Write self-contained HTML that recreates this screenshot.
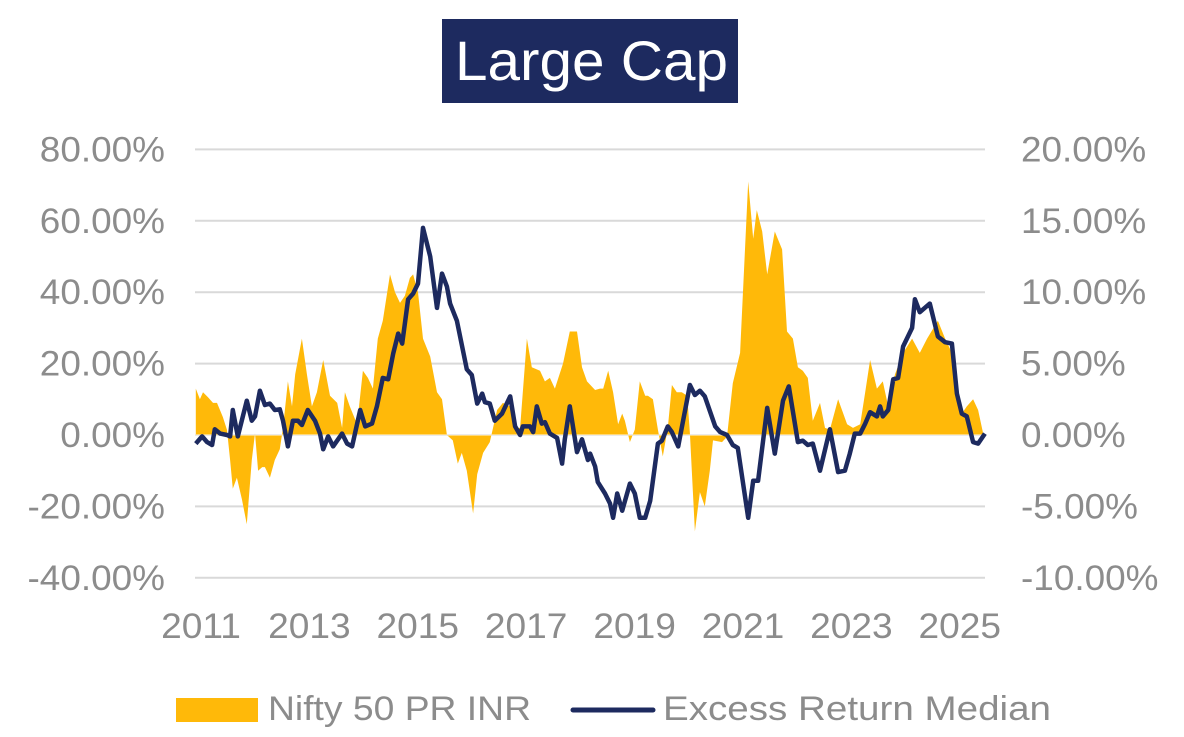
<!DOCTYPE html>
<html><head><meta charset="utf-8"><style>
html,body{margin:0;padding:0;background:#fff;}
svg{display:block;font-family:"Liberation Sans",sans-serif;}
</style></head><body>
<svg id="chart" width="1184" height="737" viewBox="0 0 1184 737">
  <rect x="442" y="19" width="296" height="84" fill="#1d2a5f"/>
  <text x="455" y="80" font-size="56" fill="#fff" textLength="273" lengthAdjust="spacingAndGlyphs">Large Cap</text>
  <g id="grid"></g>
  <g id="yl"></g>
  <g id="yr"></g>
  <g id="xl"></g>
  <g id="plot"></g>
  <g>
    <rect x="176" y="698" width="82" height="24" fill="#ffb909"/>
    <text x="268" y="720" font-size="34" fill="#8c8c8c" textLength="263" lengthAdjust="spacingAndGlyphs">Nifty 50 PR INR</text>
    <line x1="573" y1="710" x2="653" y2="710" stroke="#1d2a5f" stroke-width="5" stroke-linecap="round"/>
    <text x="663" y="720" font-size="34" fill="#8c8c8c" textLength="388" lengthAdjust="spacingAndGlyphs">Excess Return Median</text>
  </g>
</svg>
<script>
// months since Jan 2011
const niftyMonths = [0.4,1.3,2.0,3.1,4.2,5.1,6.4,7.3,8.0,8.6,9.5,10.6,11.7,12.8,13.5,14.2,15.1,15.7,16.8,17.9,19.0,19.7,20.8,21.7,22.4,23.9,25.0,26.1,27.2,28.6,30.1,31.7,32.8,33.4,34.5,36.1,37.4,38.5,39.6,40.7,41.8,43.4,44.5,45.6,46.7,47.8,48.5,49.6,50.7,52.3,53.8,54.9,56.0,57.3,58.4,59.3,60.4,61.8,62.7,64.0,65.5,67.1,68.4,70.0,71.1,72.2,73.7,74.8,76.6,77.7,78.8,79.9,81.7,83.2,84.8,85.9,87.0,88.8,89.9,90.6,91.7,92.8,93.9,94.8,95.4,96.5,97.6,98.7,99.9,100.5,101.6,102.7,103.8,104.9,105.8,106.9,108.0,109.2,109.8,110.9,112.0,113.1,114.2,114.9,116.9,118.0,119.3,120.9,122.7,123.8,124.6,125.8,126.9,128.6,130.2,131.3,132.6,133.7,134.8,135.9,137.0,138.6,139.7,140.8,142.6,144.6,145.9,147.5,148.6,149.7,151.2,152.5,153.7,155.2,157.0,159.0,160.7,162.3,164.7,166.3,167.8,168.9,170.0,171.1,172.5,173.6,174.7];
const niftyValues = [13,10,12,10.6,9,9,5,1.4,-7,-15,-12,-18,-25,-7,0.5,-10,-9,-9,-12,-7,-4,2,15,8,17,27,17,8,12,21,11,9,2,12,8,3,18,16,13,27,32,45,40,37,39,44,45,40,27,22,12,10,0,-1.5,-8,-5,-10,-22,-11,-5,-2,7,9,8,2,2,27,19,18,15,16,13,20,29,29,19,15,12.6,13,13,18,12,3,6,4,-2,1.5,15,11,11,10,1.5,-6,2,14,12,12,11,0.5,-27,-16,-20,-10,-1.5,-2,-0.5,14.5,23,71,55,63,57,45,57,52,29,27,19,18,16,4,9,2,1.5,10,3,2,3,12,21,13,15,8,17,23,27,23,27,32,27,23,13,6,8,10,7,0.5];
const excessMonths = [0.4,1.8,2.9,4.0,4.6,5.8,7.3,8.0,8.6,9.7,11.7,12.8,13.5,14.6,15.7,16.8,17.9,19.0,19.7,20.8,21.9,23.0,23.9,25.2,26.8,27.9,28.6,29.7,30.8,32.8,33.9,35.0,36.8,37.9,39.4,40.5,41.8,43.0,44.1,45.2,46.1,47.4,48.5,49.6,50.7,52.3,53.8,54.9,56.0,56.7,58.2,60.4,61.5,62.7,63.8,64.4,65.5,66.6,68.2,70.0,71.1,72.2,72.8,74.4,75.1,75.9,77.0,77.7,78.8,80.4,81.5,82.1,83.2,84.8,85.9,87.2,87.7,88.8,89.4,91.0,92.1,92.8,93.7,94.8,96.5,97.6,98.7,99.9,101.0,102.7,103.6,104.9,105.8,107.2,109.8,110.9,112.0,113.1,115.4,116.5,118.0,119.3,120.4,122.7,123.8,124.9,126.9,128.6,130.4,131.7,133.7,134.8,135.9,137.0,138.6,140.8,142.6,144.1,145.2,146.3,147.5,148.6,149.7,151.2,151.9,152.5,153.7,154.8,155.9,157.0,159.0,159.6,160.7,162.9,164.7,166.3,167.8,168.9,170.0,171.1,172.5,173.6,175.1];
const excessValues = [-0.6,-0.1,-0.5,-0.7,0.4,0.1,0,-0.1,1.75,-0.1,2.4,1,1.3,3.1,2.1,2.2,1.75,1.8,1,-0.8,1,1,0.7,1.75,1,0.1,-1,-0.1,-0.8,0.1,-0.6,-0.8,1.75,0.6,0.8,2,4,3.9,5.7,7.1,6.4,9.5,9.9,10.6,14.5,12.5,8.9,11.3,10.4,9.2,8,4.6,4.2,2.2,2.9,2.3,2.2,1,1.5,2.7,0.6,0,0.6,0.6,0.2,2,0.8,0.9,0.1,-0.2,-2,-0.3,2,-1.2,-0.3,-1.75,-1.3,-2.2,-3.3,-4.1,-4.8,-5.8,-4.1,-5.3,-3.4,-4.1,-5.8,-5.8,-4.6,-0.6,-0.4,0.6,0.2,-0.8,3.5,2.8,3.1,2.7,0.6,0.2,0,-0.7,-0.9,-5.8,-3.2,-3.2,1.9,-1.3,2.4,3.4,-0.5,-0.4,-0.7,-0.6,-2.5,0.4,-2.6,-2.5,-1.3,0.1,0.1,0.8,1.6,1.3,2,1.3,1.75,3.9,4,6.2,7.5,9.5,8.6,9.2,6.9,6.5,6.4,2.9,1.5,1.3,-0.5,-0.6,0.1];
const leftTicks = [80,60,40,20,0,-20,-40];
const leftTickLabels = ["80.00%","60.00%","40.00%","20.00%","0.00%","-20.00%","-40.00%"];
const rightTicks = [20,15,10,5,0,-5,-10];
const rightTickLabels = ["20.00%","15.00%","10.00%","5.00%","0.00%","-5.00%","-10.00%"];
const xTickYears = [2011,2013,2015,2017,2019,2021,2023,2025];

const NS="http://www.w3.org/2000/svg";
const X0=194, PXM=54.2/12, Y0=435, PL=3.57, PR=14.28;
const xs=m=>X0+m*PXM;
const yL=v=>Y0-v*PL;
const yR=v=>Y0-v*PR;
function mk(tag,attrs,parent){const e=document.createElementNS(NS,tag);for(const k in attrs)e.setAttribute(k,attrs[k]);parent.appendChild(e);return e;}
function widen(t,f){const w=t.getComputedTextLength();t.setAttribute('textLength',(w*f).toFixed(1));t.setAttribute('lengthAdjust','spacingAndGlyphs');}
const grid=document.getElementById('grid'),yl=document.getElementById('yl'),yr=document.getElementById('yr'),xl=document.getElementById('xl'),plot=document.getElementById('plot');
leftTicks.forEach((v,i)=>{
  const g=mk('line',{x1:195,x2:985,y1:yL(v),y2:yL(v),stroke:'#d9d9d9','stroke-width':2},grid);
  
  
  const t=mk('text',{x:165,y:yL(v)+12,'font-size':35,fill:'#8c8c8c','text-anchor':'end'},yl);
  t.textContent=leftTickLabels[i];
  
  
  widen(t,1.055);
});
rightTicks.forEach((v,i)=>{
  const t=mk('text',{x:1021,y:yR(v)+12,'font-size':35,fill:'#8c8c8c'},yr);
  t.textContent=rightTickLabels[i];
  
  
  widen(t,1.055);
});
xTickYears.forEach(yv=>{
  const t=mk('text',{x:xs((yv-2011)*12)+7,y:638,'font-size':35,fill:'#8c8c8c','text-anchor':'middle'},xl);
  t.textContent=String(yv);
  
  
  widen(t,1.06);
});
let d='M'+xs(niftyMonths[0])+','+Y0;
niftyMonths.forEach((m,i)=>{d+=' L'+xs(m).toFixed(1)+','+yL(niftyValues[i]).toFixed(1);});
d+=' L'+xs(niftyMonths[niftyMonths.length-1])+','+Y0+' Z';
const area=mk('path',{d:d,fill:'#ffb909'},plot);


const zl=mk('line',{x1:195,x2:985,y1:Y0,y2:Y0,stroke:'#fff','stroke-width':1.5,opacity:0.6},plot);


const pts=excessMonths.map((m,i)=>xs(m).toFixed(1)+','+yR(excessValues[i]).toFixed(1)).join(' ');
const ln=mk('polyline',{points:pts,fill:'none',stroke:'#1d2a5f','stroke-width':4.5,'stroke-linejoin':'round'},plot);


</script>
</body></html>
